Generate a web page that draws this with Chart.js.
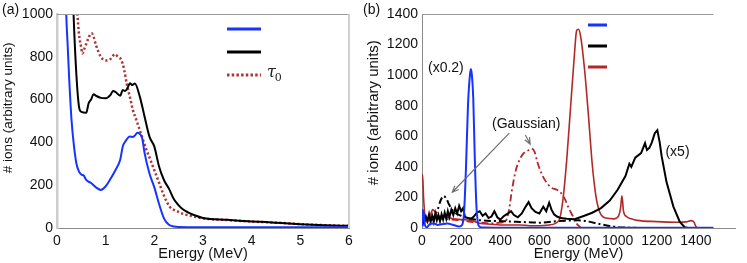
<!DOCTYPE html>
<html>
<head>
<meta charset="utf-8">
<script src="https://cdn.jsdelivr.net/npm/chart.js@4.4.1/dist/chart.umd.min.js"></script>
<style>
  body { margin: 0; background: #fff; width: 747px; height: 263px; position: relative; overflow: hidden;
         font-family: "Liberation Sans", Arial, sans-serif; }
  canvas { position: absolute; top: 0; }
  #chartA { left: 0; }
  #chartB { left: 365px; }
  .tag { position: absolute; top: 1px; font-size: 14px; color: #111; }
</style>
</head>
<body>
<canvas id="chartA" width="365" height="263"></canvas>
<canvas id="chartB" width="382" height="263"></canvas>
<div class="tag" style="left:2px">(a)</div>
<div class="tag" style="left:363px">(b)</div>
<script>
// ---- panel (a): energy in MeV ----
const blueA = [[0.15,1400],[0.19,1000],[0.22,850],[0.25,700],[0.3,500],[0.35,380],[0.4,300],[0.45,265],[0.5,250],
  [0.55,245],[0.6,225],[0.7,210],[0.8,190],[0.9,178],[1.0,195],[1.1,230],[1.2,270],[1.3,320],[1.35,380],[1.4,403],
  [1.5,427],[1.55,425],[1.6,432],[1.65,445],[1.7,440],[1.75,420],[1.8,350],[1.9,255],[2.0,190],[2.1,110],[2.2,44],
  [2.3,15],[2.4,7],[2.5,5],[3,4],[4,3],[5,3],[6,3]];
const blackA = [[0.3,1300],[0.34,1000],[0.4,710],[0.45,570],[0.5,543],[0.55,540],[0.6,538],[0.65,583],[0.7,600],
  [0.75,625],[0.8,618],[0.9,608],[1.0,606],[1.1,622],[1.15,640],[1.2,636],[1.3,618],[1.35,645],[1.4,640],[1.45,655],
  [1.5,676],[1.55,668],[1.6,675],[1.7,615],[1.8,520],[1.9,427],[2.0,380],[2.1,285],[2.2,223],[2.3,184],[2.4,135],
  [2.5,106],[2.6,85],[2.7,72],[2.8,62],[3.0,47],[3.5,38],[4.0,30],[4.3,28],[4.5,25],[5.0,18],[5.5,13],[6.0,10]];
const tauA = [[0.38,1150],[0.42,1000],[0.45,910],[0.5,840],[0.52,815],[0.55,830],[0.6,860],[0.65,890],[0.71,910],
  [0.75,895],[0.8,855],[0.9,800],[1.0,783],[1.1,790],[1.19,812],[1.25,800],[1.32,786],[1.38,740],[1.43,677],
  [1.5,610],[1.56,551],[1.63,505],[1.7,458],[1.77,410],[1.84,364],[1.92,318],[2.0,270],[2.1,210],[2.18,161],
  [2.25,125],[2.32,98],[2.4,85],[2.5,75],[2.6,65],[2.8,55],[3.0,45],[3.5,37],[4.0,30],[4.5,25],[5.0,18],[5.5,13],[6.0,10]];
const legendA = ['', '', 'τ0'];

// ---- panel (b): energy in MeV ----
const blueB = [[0,10],[3,120],[8,100],[15,20],[25,5],[40,25],[60,30],[80,20],[100,25],[130,30],[160,20],[190,10],
  [205,20],[215,100],[225,400],[235,800],[245,1000],[250,1040],[255,1000],[262,850],[270,450],[278,150],[285,40],
  [295,8],[310,3],[400,2],[600,2],[1000,2],[1490,2]];
const blackB = [[0,80],[5,55],[12,40],[20,75],[28,45],[36,90],[44,40],[52,80],[60,40],[68,95],[76,50],[84,85],[92,45],
  [100,90],[108,55],[116,100],[124,60],[132,110],[140,70],[150,120],[160,85],[170,130],[180,95],[190,145],[200,110],
  [210,130],[220,70],[235,65],[250,60],[265,75],[280,100],[295,110],[310,80],[325,95],[340,65],[355,75],[370,110],
  [385,70],[400,55],[420,80],[440,95],[455,110],[470,85],[490,70],[510,95],[530,140],[545,170],[560,130],[580,105],
  [600,95],[620,140],[635,110],[650,165],[662,120],[675,90],[690,75],[710,65],[740,60],[780,58],[830,80],[870,100],
  [915,130],[960,180],[1000,250],[1040,340],[1060,420],[1070,400],[1090,460],[1120,490],[1140,555],[1150,510],
  [1163,525],[1175,560],[1190,620],[1203,640],[1215,560],[1225,470],[1250,300],[1285,140],[1318,40],[1343,5],[1360,0]];
const redB = [[0,300],[3,350],[8,200],[15,80],[25,40],[40,70],[55,120],[65,110],[80,80],[100,75],[130,70],[160,60],
  [200,55],[250,50],[300,30],[350,25],[400,20],[450,20],[500,20],[550,15],[600,15],[650,20],[700,50],[720,180],
  [740,450],[760,800],[780,1150],[790,1290],[800,1300],[810,1260],[830,1050],[850,750],[870,420],[890,200],[910,100],
  [940,65],[980,60],[1005,80],[1015,130],[1022,210],[1030,110],[1045,75],[1070,60],[1100,50],[1200,42],[1300,38],
  [1350,40],[1375,48],[1390,40],[1400,10],[1405,0]];
const blackGaussB = [[0,90],[20,60],[40,50],[60,70],[80,120],[95,180],[110,210],[125,190],[140,150],[160,110],
  [200,80],[250,60],[300,50],[400,45],[500,40],[600,35],[700,45],[800,50],[860,40],[900,28],[950,15],[1000,6],
  [1050,3],[1100,0]];
const redGaussB = [[0,60],[20,50],[50,55],[100,60],[150,55],[200,50],[250,40],[300,35],[350,30],[400,35],[430,50],
  [445,120],[460,250],[480,380],[500,450],[520,490],[540,505],[560,520],[575,500],[590,430],[610,360],[630,310],
  [660,265],[690,250],[710,230],[730,190],[750,130],[770,80],[790,30],[810,5]];
const legendB = ['', '', ''];
const notesB = [['(x0.2)', 122, 1048], ['(Gaussian)', 533, 680], ['(x5)', 1306, 497]];
const arrowsB = [[446, 621, 155, 234], [528, 608, 553, 549]];

const BLUE = '#1733ff';
const RED = '#b22828';
const FONT = '"Liberation Sans", Arial, sans-serif';

function pts(a) { return a.map(p => ({x: p[0], y: p[1]})); }

const extras = {
  id: 'extras',
  afterDatasetsDraw(chart, args, o) {
    const {ctx, chartArea: a, scales: {x, y}} = chart;
    ctx.save();
    // frame lines on top / right
    ctx.strokeStyle = '#9a9a9a';
    ctx.lineWidth = 1;
    const topEnd = o.topEnd != null ? x.getPixelForValue(o.topEnd) : a.right;
    ctx.beginPath(); ctx.moveTo(a.left, a.top + 0.5); ctx.lineTo(topEnd, a.top + 0.5); ctx.stroke();
    if (o.rightBorder) {
      ctx.strokeStyle = '#d0d0d0'; ctx.lineWidth = 2;
      ctx.beginPath(); ctx.moveTo(a.right, a.top); ctx.lineTo(a.right, a.bottom); ctx.stroke();
    }
    // legend
    const lg = o.legend;
    lg.items.forEach((di, k) => {
      const ds = chart.data.datasets[di];
      const ly = lg.y + k * lg.gap;
      ctx.strokeStyle = ds.borderColor;
      ctx.lineWidth = lg.width;
      ctx.setLineDash(ds.legendDash || []);
      ctx.beginPath(); ctx.moveTo(lg.x, ly); ctx.lineTo(lg.x + lg.len, ly); ctx.stroke();
      ctx.setLineDash([]);
      const t = lg.labels[k];
      if (t) {
        ctx.fillStyle = '#222';
        ctx.textBaseline = 'alphabetic';
        ctx.textAlign = 'left';
        ctx.font = 'italic 16px "DejaVu Serif", serif';
        const tx = lg.x + lg.len + 6;
        ctx.fillText(t[0], tx, ly + 2);
        const w = ctx.measureText(t[0]).width;
        ctx.font = '11px "DejaVu Serif", serif';
        ctx.fillText(t.slice(1), tx + w - 1, ly + 6);
      }
    });
    // notes
    ctx.fillStyle = '#111';
    ctx.font = '14px ' + FONT;
    ctx.textAlign = 'center';
    ctx.textBaseline = 'middle';
    (o.notes || []).forEach(n => ctx.fillText(n[0], x.getPixelForValue(n[1]), y.getPixelForValue(n[2])));
    // arrows
    ctx.strokeStyle = '#707070';
    ctx.lineWidth = 1.2;
    (o.arrows || []).forEach(ar => {
      const x0 = x.getPixelForValue(ar[0]), y0 = y.getPixelForValue(ar[1]);
      const x1 = x.getPixelForValue(ar[2]), y1 = y.getPixelForValue(ar[3]);
      const ang = Math.atan2(y1 - y0, x1 - x0);
      ctx.beginPath();
      ctx.moveTo(x0, y0); ctx.lineTo(x1, y1);
      ctx.moveTo(x1 - 7 * Math.cos(ang - 0.4), y1 - 7 * Math.sin(ang - 0.4));
      ctx.lineTo(x1, y1);
      ctx.lineTo(x1 - 7 * Math.cos(ang + 0.4), y1 - 7 * Math.sin(ang + 0.4));
      ctx.stroke();
    });
    ctx.restore();
  }
};

function makeOptions(xMax, yMax, yStep, titleSize, yTitle, padRight, extraOpts) {
  return {
    animation: false,
    responsive: false,
    devicePixelRatio: 1,
    layout: { padding: { top: 14, right: padRight, left: 0, bottom: 0 } },
    elements: { point: { radius: 0 }, line: { cubicInterpolationMode: 'monotone' } },
    plugins: { legend: { display: false }, tooltip: { enabled: false }, extras: extraOpts },
    scales: {
      x: {
        type: 'linear', min: 0, max: xMax,
        grid: { display: false, drawTicks: false },
        border: { display: true, color: '#8a8a8a', width: 1 },
        ticks: { stepSize: xMax > 100 ? 200 : 1, padding: 5, color: '#111', autoSkip: false, maxRotation: 0,
                 font: { family: FONT, size: 14 },
                 callback: v => (xMax > 100 && v > 1400) ? '' : String(v) },
        title: { display: true, text: 'Energy (MeV)', color: '#111', padding: 0, font: { family: FONT, size: 14.5 } },
        afterFit: s => { s.height = 35; }
      },
      y: {
        min: 0, max: yMax,
        grid: { display: false, drawTicks: false },
        border: { display: true, color: xMax > 100 ? '#8a8a8a' : '#cdcdcd', width: xMax > 100 ? 1 : 2.5 },
        ticks: { stepSize: yStep, padding: 4, color: '#111', font: { family: FONT, size: 14 },
                 callback: v => String(v) },
        title: { display: true, text: yTitle, color: '#111', padding: 0, font: { family: FONT, size: titleSize } },
        afterFit: s => { s.width = 57; }
      }
    }
  };
}

new Chart(document.getElementById('chartA'), {
  type: 'scatter',
  data: {
    datasets: [
      { data: pts(blueA), borderColor: BLUE, borderWidth: 2, showLine: true },
      { data: pts(blackA), borderColor: '#000', borderWidth: 2, showLine: true },
      { data: pts(tauA), borderColor: '#b03434', borderWidth: 2.5, borderDash: [2.2, 2.3], legendDash: [2.5, 2.2],
        showLine: true }
    ]
  },
  options: makeOptions(6, 1000, 200, 13.5, '\u00a0\u00a0\u00a0\u00a0\u00a0\u00a0\u00a0# ions (arbitrary units)', 16, {
    rightBorder: true,
    legend: { items: [0, 1, 2], labels: legendA, x: 227, y: 29, gap: 23, len: 34, width: 3 }
  }),
  plugins: [extras]
});

new Chart(document.getElementById('chartB'), {
  type: 'scatter',
  data: {
    datasets: [
      { data: pts(blueB), borderColor: BLUE, borderWidth: 2, showLine: true },
      { data: pts(blackB), borderColor: '#000', borderWidth: 2, showLine: true, cubicInterpolationMode: 'default', tension: 0 },
      { data: pts(redB), borderColor: RED, borderWidth: 1.6, showLine: true },
      { data: pts(blackGaussB), borderColor: '#000', borderWidth: 2, borderDash: [7, 3, 2, 3], showLine: true },
      { data: pts(redGaussB), borderColor: RED, borderWidth: 1.8, borderDash: [7, 3, 2, 3], showLine: true }
    ]
  },
  options: makeOptions(1600, 1400, 200, 15, '\u00a0\u00a0\u00a0\u00a0# ions (arbitrary units)', 12, {
    topEnd: 1490,
    notes: notesB,
    arrows: arrowsB,
    legend: { items: [0, 1, 2], labels: legendB, x: 223, y: 25, gap: 21, len: 19, width: 3 }
  }),
  plugins: [extras]
});
</script>
</body>
</html>
